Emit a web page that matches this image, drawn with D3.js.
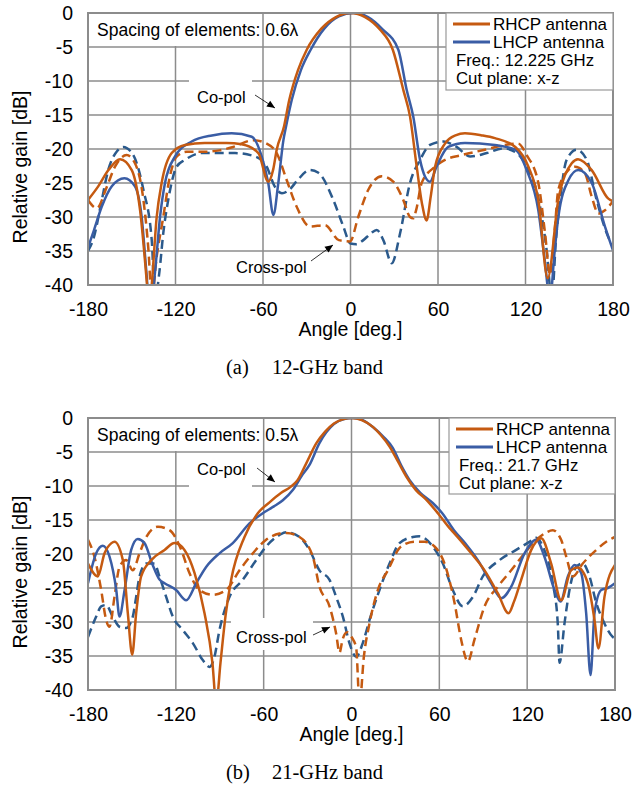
<!DOCTYPE html>
<html>
<head>
<meta charset="utf-8">
<script src="https://cdn.jsdelivr.net/npm/d3@7"></script>
<style>
  body { margin: 0; background: #fff; }
  svg { display: block; }
  text { font-family: Arial, "Liberation Sans", sans-serif; fill: #000; }
</style>
</head>
<body>
<svg id="chart" width="632" height="789"></svg>
<script>
// --- Axis ticks ---
const angleTicks = [-180, -120, -60, 0, 60, 120, 180];
const gainTicks = [0, -5, -10, -15, -20, -25, -30, -35, -40];

// --- 12-GHz band, [angle deg, relative gain dB] ---
const rhcpCo12 = [[-180,-27.5],[-173,-25.5],[-166,-23.1],[-158,-21.5],[-150,-23.1],[-144.3,-29],[-139.7,-39.5],[-138,-44],
  [-136.3,-40],[-132.9,-30],[-129.5,-25],[-122.6,-20.6],[-113.5,-19.4],[-100,-19.1],[-85,-19.1],[-74.6,-19.3],[-63.2,-20.6],
  [-56.4,-24.8],[-53,-23],[-50.6,-20.1],[-45.6,-16.7],[-42,-12.8],[-36,-8.4],[-30,-5.4],[-20,-2.3],[-10,-0.6],[0,0],
  [10,-0.6],[20,-2.4],[29,-5.4],[36.2,-11.3],[40.8,-15.2],[45.4,-22.6],[49,-28],[52.2,-30.5],[55,-27],[58,-22.6],
  [64.8,-19.2],[72,-18],[78.5,-17.7],[90,-18],[99,-18.4],[113,-19.7],[122,-22.6],[128.8,-27.5],[135.2,-39],[142.5,-27.5],
  [151.7,-22.1],[156,-21.5],[165.4,-23.1],[176.8,-27.3],[180,-27.7]];
const lhcpCo12 = [[-180,-34.5],[-176,-32],[-170.6,-28.5],[-163.8,-25.5],[-155,-24.3],[-147.8,-25.5],[-143.2,-30],[-140,-38],
  [-137.5,-44],[-134,-38],[-130.6,-30],[-127.2,-25],[-120.3,-21.1],[-108.9,-18.9],[-95,-18],[-81.5,-17.7],[-67.7,-18.2],
  [-60.9,-21.1],[-56.4,-25],[-52.9,-29.7],[-49.5,-25],[-46,-18.7],[-44.2,-16.7],[-40.3,-12.8],[-34,-8.4],[-27.3,-5.4],
  [-18,-2.3],[-8,-0.5],[2,0],[12,-0.6],[22,-2.4],[32.8,-5.4],[38.5,-11.3],[43,-15.2],[47.7,-21.6],[51,-24],[54.5,-24.8],
  [59,-22.6],[67,-19.7],[78.5,-19.1],[99,-19.4],[113,-20.1],[120.8,-23.1],[128.8,-29],[133,-36],[136.8,-42],[140,-35],
  [142.5,-30],[149.4,-24.6],[156.2,-23.1],[165.4,-25],[174.5,-31.4],[180,-34.9]];
const rhcpX12 = [[-180,-27.5],[-174,-28.7],[-167,-25.5],[-161.5,-22.6],[-153.5,-20.9],[-147.8,-22.1],[-142,-27.5],[-138.5,-35],
  [-136.3,-42],[-133,-36],[-128.4,-30],[-123.8,-24],[-119.2,-21.1],[-112.3,-20.4],[-100,-20.4],[-90,-20.2],[-80.4,-19.7],
  [-66.6,-18.7],[-57.5,-19.2],[-50.6,-20.6],[-43.7,-24.6],[-36.9,-28.5],[-27.8,-31.4],[-17.5,-31.2],[-8,-33.4],[-0.3,-33.6],
  [5.3,-30],[12.2,-26],[21.4,-24],[29.3,-24.8],[36.2,-27.5],[40.8,-30],[43,-30.2],[45,-29],[48.8,-25],[58,-22.6],
  [64.8,-21.6],[76.2,-20.9],[92.2,-20.1],[106,-19.4],[115,-19.2],[120.8,-20.9],[128.8,-25],[133.4,-32.4],[136.8,-38.5],
  [140,-32],[142.5,-26],[149.4,-23.1],[154,-22.6],[160.8,-23.6],[165.4,-27],[170,-29.5],[174.5,-29],[180,-27.7]];
const lhcpX12 = [[-180,-35],[-176,-33],[-171,-28],[-166,-23],[-160,-20.3],[-155.8,-19.7],[-151,-20.3],[-147.8,-21.4],
  [-142,-26],[-136.3,-33.4],[-134,-42],[-131,-38],[-128.4,-32.4],[-125,-27.5],[-119.2,-22.6],[-113.5,-21.6],[-102,-20.6],
  [-79.2,-20.6],[-65.5,-21.1],[-57.5,-22.6],[-52,-25.5],[-47,-26.5],[-42,-26],[-36,-24.5],[-28,-23.1],[-22,-23.5],
  [-11.8,-27.5],[-4.9,-31.4],[0,-33.9],[4,-34],[8.8,-33.4],[14,-32.4],[18,-31.9],[22.5,-33.4],[28.3,-36.8],[34,-32.4],
  [40.8,-25],[47.7,-21.6],[54.5,-19.4],[63.6,-18.9],[72.8,-19.7],[82,-21.1],[93.4,-20.6],[104.8,-19.9],[114,-20.6],
  [120.8,-22.6],[130,-28.5],[134.5,-34.9],[138,-42],[141,-33],[143.7,-27.5],[148.2,-21.6],[155.1,-20.1],[162,-21.6],
  [168.8,-27.5],[175.7,-32.4],[180,-34.4]];

// --- 21-GHz band ---
const rhcpCo21 = [[-180,-21.4],[-173.3,-23.3],[-168.7,-19.9],[-164,-18.4],[-161.9,-18.2],[-156.2,-20.9],[-152.8,-28.7],
  [-149.8,-34.8],[-147.1,-28.7],[-143.7,-23.3],[-136.8,-20.9],[-127.7,-19.4],[-120.9,-18.4],[-114.1,-19.4],[-107.2,-22.8],
  [-100.4,-28.7],[-95,-36],[-92.4,-42],[-89.5,-36],[-86,-29],[-82.2,-23.8],[-73.1,-17.5],[-64,-14],[-56,-12.4],[-48,-11],
  [-42,-10.2],[-37,-9.2],[-31,-6.7],[-24,-3.7],[-18,-2],[-12,-0.8],[-6,-0.2],[0,0],[7,-0.3],[14.6,-1.3],[20,-2.5],
  [26,-4.2],[32,-6.5],[37.4,-8.6],[44,-10.6],[51,-12],[59,-14],[67,-16.2],[70.4,-17],[81.8,-19.9],[90.9,-22.4],
  [100,-25.8],[107.3,-28.7],[111,-27],[115.9,-23.8],[122.8,-19.4],[129.6,-17.7],[136.4,-21.4],[143.2,-26.8],[150,-22.4],
  [154.6,-22],[161.4,-24.3],[166,-29.7],[168.7,-33.9],[172.8,-26.3],[180,-21.6]];
const lhcpCo21 = [[-180,-24.3],[-174.4,-19.9],[-169.9,-18.8],[-165.3,-20.4],[-160.7,-25.3],[-158.5,-29.2],[-155,-25.3],
  [-150.5,-19.4],[-146,-17.8],[-141.4,-18.4],[-136,-21.5],[-131,-23.8],[-127.7,-24.3],[-119.8,-25.3],[-112.9,-26.8],
  [-106.1,-24.3],[-99.3,-21.9],[-90.2,-19.9],[-81.1,-18.4],[-69.7,-15.5],[-60.6,-14],[-53,-13],[-46.9,-12.1],[-40.1,-10.6],
  [-34,-8.5],[-28.7,-6.9],[-21.9,-3.7],[-12,-0.9],[-5,-0.15],[1,0],[8,-0.35],[15,-1.4],[22,-2.8],[28.2,-4.4],[34,-7],
  [39.6,-9.1],[47,-11],[55.5,-12.5],[62,-14],[70,-16.5],[78,-18.5],[86.3,-20.9],[95.4,-24.3],[102.3,-26.5],[109.1,-24.8],
  [118.2,-19.9],[126.2,-17.9],[131.8,-20.4],[138.7,-25.3],[142.8,-27],[147.8,-23.3],[152.3,-21.6],[156.9,-22.8],
  [160.3,-28.7],[163.3,-37.8],[166,-28.7],[170.6,-25.3],[175.1,-25],[180,-24.3]];
const rhcpX21 = [[-180,-17.9],[-175.6,-20.4],[-171,-25.3],[-167.6,-29.7],[-165.3,-30.7],[-161.9,-26.3],[-158.5,-21.9],
  [-153.9,-20.9],[-149.4,-22.4],[-144.8,-19.9],[-140.2,-17.5],[-132.3,-16],[-124.3,-16.5],[-116.3,-19.4],[-110.7,-22.8],
  [-103.8,-25.3],[-94.7,-26],[-85.6,-25.3],[-76.5,-22.4],[-67.4,-19.9],[-58.3,-17.9],[-49.2,-17],[-44.6,-16.9],
  [-35.5,-17.5],[-26.4,-20.4],[-21.9,-24.8],[-15,-27.7],[-10.5,-31.7],[-8.2,-34.5],[-6,-32.5],[-3,-31.5],[0,-32.2],
  [3.2,-33.8],[5.5,-42],[8.5,-35],[12.3,-30.2],[18,-25.3],[24.8,-22.4],[33.9,-18.9],[43,-18.2],[49.9,-18.2],[56.7,-18.9],
  [63.5,-21.4],[70.4,-27.2],[74.9,-32.6],[79.5,-35.8],[84,-32.6],[90.9,-27.7],[100,-24.8],[109.1,-22.4],[118.2,-19.9],
  [125,-18.2],[131.8,-17],[137.5,-16.5],[143.2,-17.9],[146.7,-20.4],[151.2,-23.3],[158,-21.4],[167.2,-19.4],[174,-18.2],
  [180,-17.5]];
const lhcpX21 = [[-180,-32.2],[-174.4,-29.2],[-171,-27.7],[-167.6,-27.5],[-163.1,-29.2],[-158.5,-30.7],[-154,-30.9],
  [-149.4,-29.2],[-147.1,-26.3],[-144.8,-23.3],[-140.2,-21.4],[-134.6,-21.4],[-131.2,-23.3],[-126.6,-26.3],[-122.1,-29.2],
  [-115.2,-31.2],[-108.4,-33.1],[-101.6,-35.6],[-97,-36.6],[-93.6,-35.1],[-90.2,-31.2],[-83.3,-26.3],[-74.3,-23.8],
  [-65.1,-20.9],[-58.3,-18.9],[-49.2,-17.2],[-44.6,-16.8],[-35.5,-17.5],[-28.7,-19.4],[-21.9,-22.4],[-15,-23.8],
  [-10.5,-26.3],[-5.9,-29.2],[-1.4,-33.1],[3.2,-35.1],[7.7,-33.1],[12.3,-29.7],[19.1,-25.3],[26,-21.4],[32.8,-18.4],
  [41.9,-17.5],[46.4,-17.4],[55.5,-18.9],[62.4,-21.4],[69.2,-25.3],[76,-27.7],[82.9,-26.3],[89.7,-23.3],[101.1,-20.9],
  [112.5,-19.4],[123.9,-17.9],[126.2,-17.6],[130.7,-18.9],[137.5,-24.3],[140.9,-30.2],[142.1,-36],[145.5,-30.2],
  [148.9,-25.3],[153.5,-21.9],[158,-21.4],[162.6,-23.3],[167.2,-27.2],[171.7,-29.7],[178.5,-32.2],[180,-32.4]];

const orange = "#c55a11";
const blue = "#3a5da5";
const blueDash = "#2b5a8c";
const gridColor = "#8c8c8c";

const svg = d3.select("#chart");

function drawPanel(p) {
    const x = d3.scaleLinear().domain([-180, 180]).range([p.left, p.right]);
    const y = d3.scaleLinear().domain([-40, 0]).range([p.bottom, p.top]);
    const g = svg.append("g");

    // gridlines
    g.append("g").selectAll("line").data(gainTicks.slice(1, -1)).enter().append("line")
        .attr("x1", p.left).attr("x2", p.right)
        .attr("y1", d => y(d)).attr("y2", d => y(d))
        .attr("stroke", gridColor).attr("stroke-width", 1.5);
    g.append("g").selectAll("line").data(angleTicks.slice(1, -1)).enter().append("line")
        .attr("y1", p.top).attr("y2", p.bottom)
        .attr("x1", d => x(d)).attr("x2", d => x(d))
        .attr("stroke", gridColor).attr("stroke-width", 1.5);

    // white boxes behind annotations
    p.boxes.forEach(b => {
        g.append("rect").attr("x", b[0]).attr("y", b[1]).attr("width", b[2]).attr("height", b[3]).attr("fill", "#fff");
    });

    // axes (labels only), plain hyphen for negatives
    const yAxis = g.append("g").attr("transform", `translate(${p.left},0)`)
        .call(d3.axisLeft(y).tickValues(gainTicks).tickFormat(d => String(d)).tickSize(0).tickPadding(15));
    yAxis.select(".domain").remove();
    yAxis.selectAll("text").style("font-size", "19.5px").style("font-family", "Arial, 'Liberation Sans', sans-serif");

    const xAxis = g.append("g").attr("transform", `translate(0,${p.bottom})`)
        .call(d3.axisBottom(x).tickValues(angleTicks).tickFormat(d => String(d)).tickSize(0).tickPadding(17));
    xAxis.select(".domain").remove();
    xAxis.selectAll("text").style("font-size", "19.5px").style("font-family", "Arial, 'Liberation Sans', sans-serif");

    // curves
    const clipId = "clip" + p.id;
    svg.append("clipPath").attr("id", clipId).append("rect")
        .attr("x", p.left).attr("y", p.top).attr("width", p.right - p.left).attr("height", p.bottom - p.top);
    const line = d3.line().x(d => x(d[0])).y(d => y(d[1])).curve(d3.curveMonotoneX);
    const curves = g.append("g").attr("clip-path", `url(#${clipId})`);
    const series = [
        { data: p.lhcpX, color: blueDash, dash: "9,5" },
        { data: p.rhcpX, color: orange, dash: "9,5" },
        { data: p.lhcpCo, color: blue, dash: null },
        { data: p.rhcpCo, color: orange, dash: null }
    ];
    series.forEach(s => {
        curves.append("path").datum(s.data)
            .attr("fill", "none").attr("stroke", s.color).attr("stroke-width", 2.5)
            .attr("stroke-dasharray", s.dash).attr("d", line);
    });

    // frame
    g.append("rect").attr("x", p.left).attr("y", p.top)
        .attr("width", p.right - p.left).attr("height", p.bottom - p.top)
        .attr("fill", "none").attr("stroke", gridColor).attr("stroke-width", 2);

    // legend
    const lg = g.append("g");
    lg.append("rect").attr("x", p.legend.x).attr("y", p.top)
        .attr("width", p.right - p.legend.x).attr("height", p.legend.h)
        .attr("fill", "#fff").attr("stroke", "#999").attr("stroke-width", 1.2);
    const lx = p.legend.x;
    [[orange, "RHCP antenna", 11], [blue, "LHCP antenna", 29]].forEach(([c, t, dy]) => {
        lg.append("line").attr("x1", lx + 7).attr("x2", lx + 44)
            .attr("y1", p.top + dy).attr("y2", p.top + dy)
            .attr("stroke", c).attr("stroke-width", 3);
        lg.append("text").attr("x", lx + 47).attr("y", p.top + dy + 6)
            .style("font-size", "17px").text(t);
    });
    lg.append("text").attr("x", lx + 10).attr("y", p.top + 53).style("font-size", "16.8px").text(p.freq);
    lg.append("text").attr("x", lx + 10).attr("y", p.top + 70.5).style("font-size", "16.8px").text("Cut plane: x-z");

    // annotations
    g.append("text").attr("x", 97).attr("y", p.top + 23).style("font-size", "17.5px").text(p.spacing);
    g.append("text").attr("x", 197).attr("y", p.coY).style("font-size", "16.5px").text("Co-pol");
    g.append("text").attr("x", 236).attr("y", p.crossY).style("font-size", "16.5px").text("Cross-pol");
    p.arrows.forEach(a => {
        g.append("line").attr("x1", a[0]).attr("y1", a[1]).attr("x2", a[2]).attr("y2", a[3])
            .attr("stroke", "#000").attr("stroke-width", 0.8);
        const ang = Math.atan2(a[3] - a[1], a[2] - a[0]) * 180 / Math.PI;
        g.append("path").attr("d", "M0,0L-8,-3.5L-8,3.5Z").attr("fill", "#000")
            .attr("transform", `translate(${a[2]},${a[3]}) rotate(${ang})`);
    });

    // axis titles
    g.append("text").attr("transform", `translate(27,${p.top + 154}) rotate(-90)`)
        .attr("text-anchor", "middle").style("font-size", "19.5px").text("Relative gain [dB]");
    g.append("text").attr("x", (p.left + p.right) / 2).attr("y", p.bottom + 51)
        .attr("text-anchor", "middle").style("font-size", "19.5px").text("Angle [deg.]");

    // caption
    g.append("text").attr("x", 226).attr("y", p.bottom + 89)
        .style("font-family", "'Liberation Serif', 'Times New Roman', serif").style("font-size", "20.5px").text(p.capA);
    g.append("text").attr("x", 272).attr("y", p.bottom + 89)
        .style("font-family", "'Liberation Serif', 'Times New Roman', serif").style("font-size", "20.5px").text(p.capB);
}

drawPanel({
    id: "a", left: 88, right: 613, top: 13, bottom: 285,
    rhcpCo: rhcpCo12, lhcpCo: lhcpCo12, rhcpX: rhcpX12, lhcpX: lhcpX12,
    legend: { x: 446, h: 77 }, freq: "Freq.: 12.225 GHz",
    spacing: "Spacing of elements: 0.6\u03bb",
    coY: 103, crossY: 273,
    boxes: [[89, 14, 173, 32], [189, 78, 63, 34]],
    arrows: [[255, 95, 275, 108], [311, 261, 333, 245]],
    capA: "(a)", capB: "12-GHz band"
});

drawPanel({
    id: "b", left: 88, right: 615, top: 418, bottom: 690,
    rhcpCo: rhcpCo21, lhcpCo: lhcpCo21, rhcpX: rhcpX21, lhcpX: lhcpX21,
    legend: { x: 449, h: 76 }, freq: "Freq.: 21.7 GHz",
    spacing: "Spacing of elements: 0.5\u03bb",
    coY: 475, crossY: 643,
    boxes: [[89, 419, 173, 32], [189, 456, 63, 34], [231, 618, 82, 32]],
    arrows: [[257, 468, 275, 482], [313, 635, 330, 627]],
    capA: "(b)", capB: "21-GHz band"
});
</script>
</body>
</html>
